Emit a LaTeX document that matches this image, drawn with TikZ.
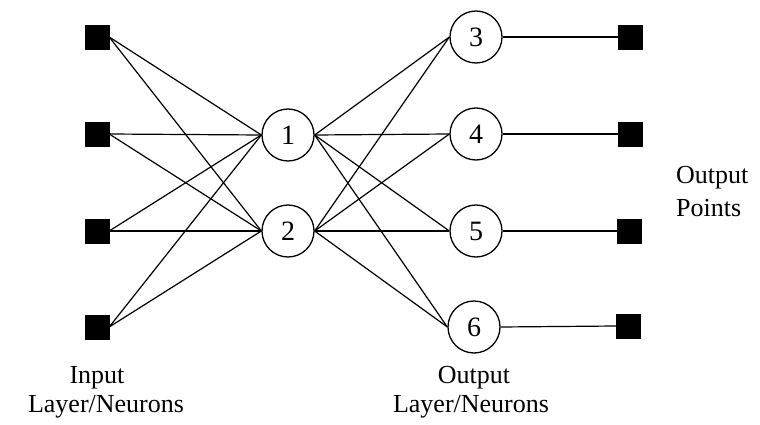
\documentclass[tikz,border=0pt]{standalone}
\usepackage{fontspec}
\setmainfont{Liberation Serif}
\begin{document}
\begin{tikzpicture}[x=1pt,y=-1pt,
  sq/.style={fill=black,draw=black,minimum size=24pt,inner sep=0pt},
  neuron/.style={circle,draw=black,line width=1.3pt,minimum size=52pt,inner sep=0pt,font=\fontsize{28}{28}\selectfont},
  conn/.style={line width=1.2pt},
  lbl/.style={font=\fontsize{26}{26}\selectfont,inner sep=0pt}]
\useasboundingbox (0,0) rectangle (760,425);
\node[sq] (i1) at (97,37) {};
\node[sq] (i2) at (97,134) {};
\node[sq] (i3) at (97,231) {};
\node[sq] (i4) at (97,327) {};
\node[neuron] (h1) at (288,135) {1};
\node[neuron] (h2) at (288,231) {2};
\node[neuron] (o3) at (476,37) {3};
\node[neuron] (o4) at (476,134) {4};
\node[neuron] (o5) at (476,231) {5};
\node[neuron] (o6) at (474,327) {6};
\node[sq] (p3) at (630,37) {};
\node[sq] (p4) at (630,134) {};
\node[sq] (p5) at (629,231) {};
\node[sq] (p6) at (628,326) {};
\foreach \i in {i1,i2,i3,i4}{
  \foreach \h in {h1,h2}{
    \draw[conn] (\i.east) -- (\h.west);
  }
}
\foreach \h in {h1,h2}{
  \foreach \o in {o3,o4,o5,o6}{
    \draw[conn] (\h.east) -- (\o.west);
  }
}
\draw[conn] (o3.east) -- (p3.west);
\draw[conn] (o4.east) -- (p4.west);
\draw[conn] (o5.east) -- (p5.west);
\draw[conn] (o6.east) -- (p6.west);
\node[lbl] (inA) at (97,378) {Input};
\node[lbl] (inB) at (106,407) {Layer/Neurons};
\node[lbl] (outA) at (474,378) {Output};
\node[lbl] (outB) at (471,407) {Layer/Neurons};
\node[lbl,anchor=west] (opA) at (676,178) {Output};
\node[lbl,anchor=west] (opB) at (676,208) {Points};
\end{tikzpicture}
\end{document}
